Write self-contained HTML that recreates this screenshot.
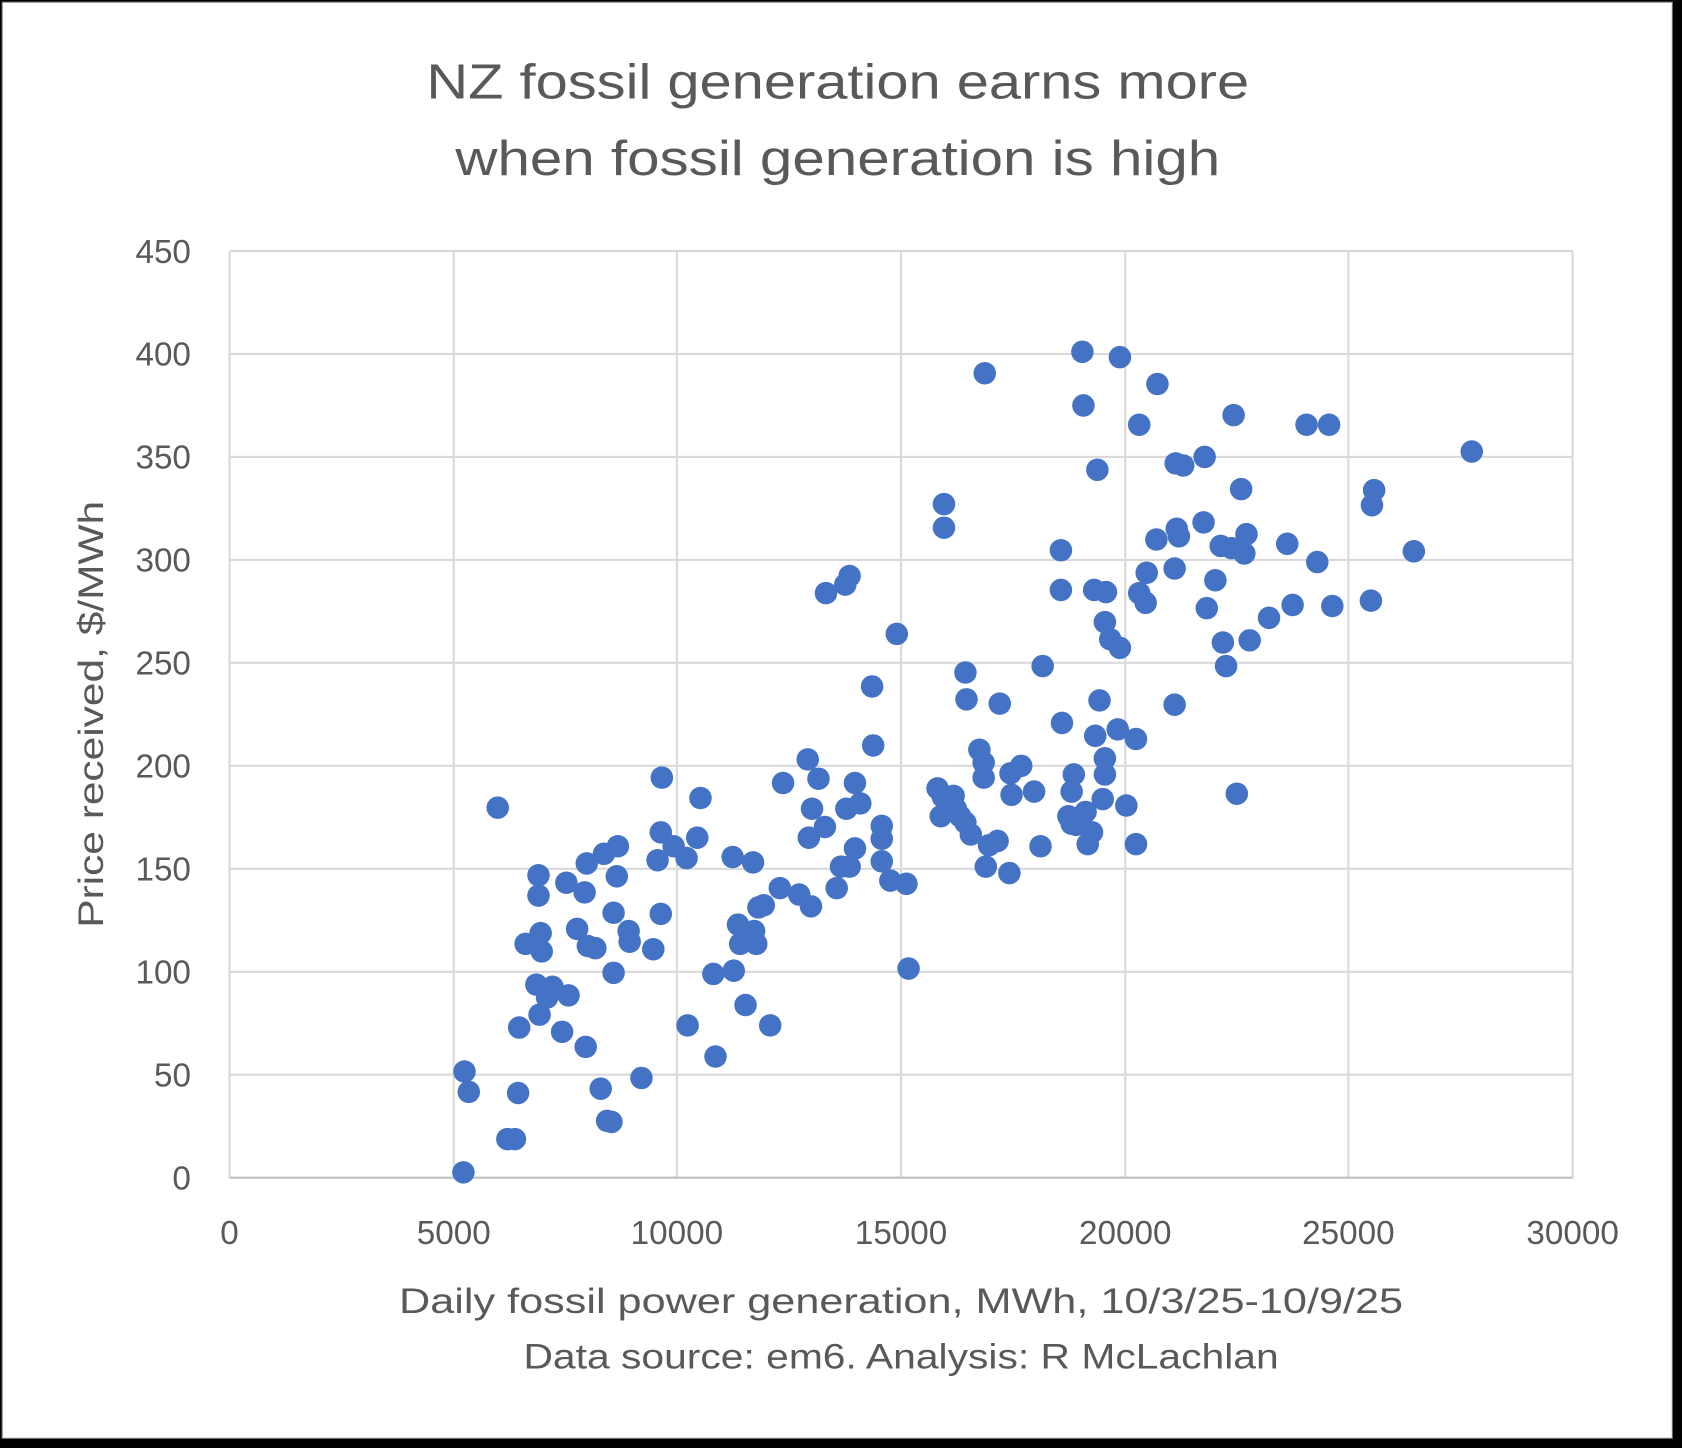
<!DOCTYPE html>
<html><head><meta charset="utf-8"><style>
html,body{margin:0;padding:0;background:#000;}
svg{display:block;}
</style></head><body>
<svg width="1682" height="1448" viewBox="0 0 1568 1350" preserveAspectRatio="none" xmlns="http://www.w3.org/2000/svg">
<rect x="0" y="0" width="1568" height="1350" fill="#000"/>
<rect x="2" y="2" width="1557" height="1339" fill="#fff" stroke="#777" stroke-width="1"/>
<g font-family="Liberation Sans, Arial, sans-serif" fill="#595959">
<text x="781" y="92" font-size="46" text-anchor="middle" textLength="767" lengthAdjust="spacingAndGlyphs">NZ fossil generation earns more</text>
<text x="781" y="163" font-size="46" text-anchor="middle" textLength="713" lengthAdjust="spacingAndGlyphs">when fossil generation is high</text>
</g>
<g stroke="#d9d9d9" stroke-width="2" fill="none">
<line x1="214" y1="234" x2="1466" y2="234"/>
<line x1="214" y1="330" x2="1466" y2="330"/>
<line x1="214" y1="426" x2="1466" y2="426"/>
<line x1="214" y1="522" x2="1466" y2="522"/>
<line x1="214" y1="618" x2="1466" y2="618"/>
<line x1="214" y1="714" x2="1466" y2="714"/>
<line x1="214" y1="810" x2="1466" y2="810"/>
<line x1="214" y1="906" x2="1466" y2="906"/>
<line x1="214" y1="1002" x2="1466" y2="1002"/>
<line x1="214" y1="234" x2="214" y2="1098"/>
<line x1="423" y1="234" x2="423" y2="1098"/>
<line x1="631" y1="234" x2="631" y2="1098"/>
<line x1="840" y1="234" x2="840" y2="1098"/>
<line x1="1049" y1="234" x2="1049" y2="1098"/>
<line x1="1257" y1="234" x2="1257" y2="1098"/>
<line x1="1466" y1="234" x2="1466" y2="1098"/>
<line x1="214" y1="1098" x2="1466" y2="1098" stroke="#bfbfbf"/>
</g>
<g font-family="Liberation Sans, Arial, sans-serif" fill="#595959" font-size="31" text-anchor="end">
<text x="178" y="245">450</text><text x="178" y="341">400</text><text x="178" y="437">350</text>
<text x="178" y="533">300</text><text x="178" y="629">250</text><text x="178" y="725">200</text>
<text x="178" y="821">150</text><text x="178" y="917">100</text><text x="178" y="1013">50</text>
<text x="178" y="1109">0</text>
</g>
<g font-family="Liberation Sans, Arial, sans-serif" fill="#595959" font-size="31" text-anchor="middle">
<text x="214" y="1160">0</text><text x="423" y="1160">5000</text><text x="631" y="1160">10000</text>
<text x="840" y="1160">15000</text><text x="1049" y="1160">20000</text><text x="1257" y="1160">25000</text>
<text x="1466" y="1160">30000</text>
<text x="840" y="1224" font-size="33" textLength="936" lengthAdjust="spacingAndGlyphs">Daily fossil power generation, MWh, 10/3/25-10/9/25</text>
<text x="840" y="1276" font-size="33" textLength="704" lengthAdjust="spacingAndGlyphs">Data source: em6. Analysis: R McLachlan</text>
<text x="0" y="0" font-size="33" transform="translate(96,666) rotate(-90)" text-anchor="middle" textLength="398" lengthAdjust="spacingAndGlyphs">Price received, $/MWh</text>
</g>
<g fill="#4472c4">
<circle cx="432" cy="1093" r="10.5"/><circle cx="433" cy="999" r="10.5"/><circle cx="437" cy="1018" r="10.5"/><circle cx="464" cy="753" r="10.5"/><circle cx="473" cy="1062" r="10.5"/><circle cx="480" cy="1062" r="10.5"/><circle cx="483" cy="1019" r="10.5"/><circle cx="484" cy="958" r="10.5"/><circle cx="490" cy="880" r="10.5"/><circle cx="502" cy="816" r="10.5"/><circle cx="502" cy="835" r="10.5"/><circle cx="504" cy="870" r="10.5"/><circle cx="505" cy="887" r="10.5"/><circle cx="500" cy="918" r="10.5"/><circle cx="503" cy="946" r="10.5"/><circle cx="510" cy="930" r="10.5"/><circle cx="515" cy="920" r="10.5"/><circle cx="524" cy="962" r="10.5"/><circle cx="530" cy="928" r="10.5"/><circle cx="528" cy="823" r="10.5"/><circle cx="538" cy="866" r="10.5"/><circle cx="545" cy="832" r="10.5"/><circle cx="546" cy="976" r="10.5"/><circle cx="547" cy="805" r="10.5"/><circle cx="548" cy="882" r="10.5"/><circle cx="555" cy="884" r="10.5"/><circle cx="560" cy="1015" r="10.5"/><circle cx="563" cy="796" r="10.5"/><circle cx="566" cy="1045" r="10.5"/><circle cx="570" cy="1046" r="10.5"/><circle cx="572" cy="907" r="10.5"/><circle cx="572" cy="851" r="10.5"/><circle cx="575" cy="817" r="10.5"/><circle cx="576" cy="789" r="10.5"/><circle cx="586" cy="868" r="10.5"/><circle cx="587" cy="878" r="10.5"/><circle cx="598" cy="1005" r="10.5"/><circle cx="609" cy="885" r="10.5"/><circle cx="613" cy="802" r="10.5"/><circle cx="616" cy="852" r="10.5"/><circle cx="616" cy="776" r="10.5"/><circle cx="617" cy="725" r="10.5"/><circle cx="628" cy="789" r="10.5"/><circle cx="640" cy="800" r="10.5"/><circle cx="641" cy="956" r="10.5"/><circle cx="650" cy="781" r="10.5"/><circle cx="653" cy="744" r="10.5"/><circle cx="665" cy="908" r="10.5"/><circle cx="667" cy="985" r="10.5"/><circle cx="683" cy="799" r="10.5"/><circle cx="684" cy="905" r="10.5"/><circle cx="688" cy="862" r="10.5"/><circle cx="690" cy="880" r="10.5"/><circle cx="695" cy="937" r="10.5"/><circle cx="702" cy="804" r="10.5"/><circle cx="705" cy="880" r="10.5"/><circle cx="703" cy="868" r="10.5"/><circle cx="707" cy="846" r="10.5"/><circle cx="712" cy="844" r="10.5"/><circle cx="718" cy="956" r="10.5"/><circle cx="727" cy="828" r="10.5"/><circle cx="730" cy="730" r="10.5"/><circle cx="745" cy="834" r="10.5"/><circle cx="753" cy="708" r="10.5"/><circle cx="754" cy="781" r="10.5"/><circle cx="756" cy="845" r="10.5"/><circle cx="757" cy="754" r="10.5"/><circle cx="763" cy="726" r="10.5"/><circle cx="770" cy="553" r="10.5"/><circle cx="769" cy="771" r="10.5"/><circle cx="780" cy="828" r="10.5"/><circle cx="784" cy="808" r="10.5"/><circle cx="788" cy="545" r="10.5"/><circle cx="792" cy="537" r="10.5"/><circle cx="789" cy="754" r="10.5"/><circle cx="792" cy="808" r="10.5"/><circle cx="797" cy="730" r="10.5"/><circle cx="797" cy="791" r="10.5"/><circle cx="802" cy="749" r="10.5"/><circle cx="813" cy="640" r="10.5"/><circle cx="814" cy="695" r="10.5"/><circle cx="822" cy="770" r="10.5"/><circle cx="822" cy="782" r="10.5"/><circle cx="822" cy="803" r="10.5"/><circle cx="830" cy="821" r="10.5"/><circle cx="836" cy="591" r="10.5"/><circle cx="845" cy="824" r="10.5"/><circle cx="847" cy="903" r="10.5"/><circle cx="874" cy="735" r="10.5"/><circle cx="877" cy="761" r="10.5"/><circle cx="879" cy="743" r="10.5"/><circle cx="880" cy="470" r="10.5"/><circle cx="880" cy="492" r="10.5"/><circle cx="883" cy="749" r="10.5"/><circle cx="889" cy="742" r="10.5"/><circle cx="891" cy="754" r="10.5"/><circle cx="895" cy="761" r="10.5"/><circle cx="900" cy="767" r="10.5"/><circle cx="900" cy="627" r="10.5"/><circle cx="901" cy="652" r="10.5"/><circle cx="905" cy="778" r="10.5"/><circle cx="913" cy="699" r="10.5"/><circle cx="918" cy="348" r="10.5"/><circle cx="917" cy="711" r="10.5"/><circle cx="917" cy="725" r="10.5"/><circle cx="919" cy="808" r="10.5"/><circle cx="922" cy="788" r="10.5"/><circle cx="930" cy="784" r="10.5"/><circle cx="932" cy="656" r="10.5"/><circle cx="941" cy="814" r="10.5"/><circle cx="942" cy="721" r="10.5"/><circle cx="943" cy="741" r="10.5"/><circle cx="952" cy="714" r="10.5"/><circle cx="964" cy="738" r="10.5"/><circle cx="970" cy="789" r="10.5"/><circle cx="972" cy="621" r="10.5"/><circle cx="989" cy="513" r="10.5"/><circle cx="989" cy="550" r="10.5"/><circle cx="990" cy="674" r="10.5"/><circle cx="996" cy="761" r="10.5"/><circle cx="999" cy="768" r="10.5"/><circle cx="999" cy="738" r="10.5"/><circle cx="1001" cy="722" r="10.5"/><circle cx="1003" cy="769" r="10.5"/><circle cx="1009" cy="328" r="10.5"/><circle cx="1010" cy="378" r="10.5"/><circle cx="1012" cy="757" r="10.5"/><circle cx="1014" cy="787" r="10.5"/><circle cx="1018" cy="776" r="10.5"/><circle cx="1020" cy="550" r="10.5"/><circle cx="1021" cy="686" r="10.5"/><circle cx="1023" cy="438" r="10.5"/><circle cx="1025" cy="653" r="10.5"/><circle cx="1028" cy="745" r="10.5"/><circle cx="1030" cy="707" r="10.5"/><circle cx="1030" cy="722" r="10.5"/><circle cx="1030" cy="580" r="10.5"/><circle cx="1031" cy="552" r="10.5"/><circle cx="1035" cy="596" r="10.5"/><circle cx="1042" cy="680" r="10.5"/><circle cx="1044" cy="604" r="10.5"/><circle cx="1044" cy="333" r="10.5"/><circle cx="1050" cy="751" r="10.5"/><circle cx="1059" cy="689" r="10.5"/><circle cx="1059" cy="787" r="10.5"/><circle cx="1062" cy="396" r="10.5"/><circle cx="1062" cy="553" r="10.5"/><circle cx="1069" cy="534" r="10.5"/><circle cx="1068" cy="562" r="10.5"/><circle cx="1078" cy="503" r="10.5"/><circle cx="1079" cy="358" r="10.5"/><circle cx="1095" cy="530" r="10.5"/><circle cx="1095" cy="657" r="10.5"/><circle cx="1096" cy="432" r="10.5"/><circle cx="1097" cy="493" r="10.5"/><circle cx="1099" cy="500" r="10.5"/><circle cx="1103" cy="434" r="10.5"/><circle cx="1122" cy="487" r="10.5"/><circle cx="1123" cy="426" r="10.5"/><circle cx="1125" cy="567" r="10.5"/><circle cx="1133" cy="541" r="10.5"/><circle cx="1138" cy="509" r="10.5"/><circle cx="1140" cy="599" r="10.5"/><circle cx="1143" cy="621" r="10.5"/><circle cx="1148" cy="511" r="10.5"/><circle cx="1150" cy="387" r="10.5"/><circle cx="1153" cy="740" r="10.5"/><circle cx="1157" cy="456" r="10.5"/><circle cx="1160" cy="516" r="10.5"/><circle cx="1162" cy="498" r="10.5"/><circle cx="1165" cy="597" r="10.5"/><circle cx="1183" cy="576" r="10.5"/><circle cx="1200" cy="507" r="10.5"/><circle cx="1205" cy="564" r="10.5"/><circle cx="1218" cy="396" r="10.5"/><circle cx="1228" cy="524" r="10.5"/><circle cx="1239" cy="396" r="10.5"/><circle cx="1242" cy="565" r="10.5"/><circle cx="1278" cy="560" r="10.5"/><circle cx="1279" cy="471" r="10.5"/><circle cx="1281" cy="457" r="10.5"/><circle cx="1318" cy="514" r="10.5"/><circle cx="1372" cy="421" r="10.5"/>
</g>
</svg>
</body></html>
